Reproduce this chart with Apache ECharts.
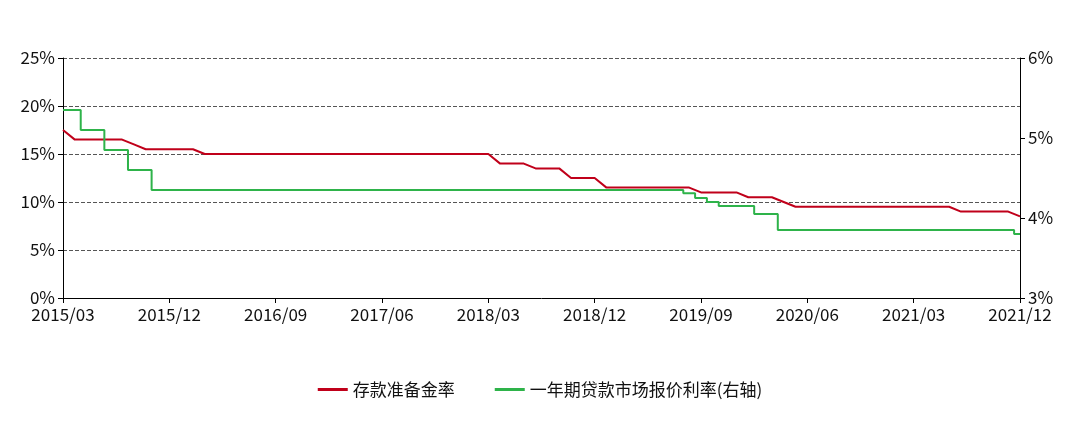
<!DOCTYPE html><html><head><meta charset="utf-8">
<script src="https://cdn.jsdelivr.net/npm/echarts@6/dist/echarts.min.js"></script>
<style>body{margin:0}#c{width:1080px;height:425px}</style></head><body><div id="c"></div><script>
const months=[];for(let y=2015,m=3;months.length<82;){months.push(y+'/'+String(m).padStart(2,'0'));m++;if(m>12){m=1;y++;}}
const rrr=[17.5,16.5,16.5,16.5,16.5,16.5,16,15.5,15.5,15.5,15.5,15.5,
15,15,15,15,15,15,15,15,15,15,15,15,15,15,15,15,15,15,15,15,15,15,15,15,15,
14,14,14,13.5,13.5,13.5,12.5,12.5,12.5,11.5,11.5,11.5,11.5,11.5,11.5,11.5,11.5,
11,11,11,11,10.5,10.5,10.5,10,9.5,9.5,9.5,9.5,9.5,9.5,9.5,9.5,9.5,9.5,9.5,9.5,9.5,9.5,
9,9,9,9,9,8.5];
const lpr=[5.35,5.35,5.1,5.1,4.85,4.85,4.6,4.6];
while(lpr.length<53)lpr.push(4.35);
lpr.push(4.31,4.25,4.2,4.15,4.15,4.15,4.05,4.05);
while(lpr.length<81)lpr.push(3.85);
lpr.push(3.8);
const names=['存款准备金率','一年期贷款市场报价利率(右轴)'];
const ft={fontFamily:'Noto Sans CJK SC',fontSize:17,color:'#111'};
const c=echarts.init(document.getElementById('c'));
c.setOption({
animation:false,
grid:{left:63,right:60,top:58,bottom:127},
legend:{bottom:22,left:'center',itemGap:40,itemWidth:30,itemHeight:3,icon:'rect',textStyle:ft,data:names},
xAxis:{type:'category',data:months,boundaryGap:false,
 axisLine:{lineStyle:{color:'#000'}},axisTick:{show:true,interval:8,alignWithLabel:true,lineStyle:{color:'#000'}},
 axisLabel:Object.assign({interval:8,margin:8},ft)},
yAxis:[{type:'value',min:0,max:25,interval:5,axisLine:{show:true,lineStyle:{color:'#000'}},axisTick:{show:true,lineStyle:{color:'#000'}},
 axisLabel:Object.assign({formatter:'{value}%'},ft),splitLine:{lineStyle:{type:'dashed',color:'#555'}}},
 {type:'value',min:3,max:6,interval:1,axisLine:{show:true,lineStyle:{color:'#000'}},axisTick:{show:true,lineStyle:{color:'#000'}},
 axisLabel:Object.assign({formatter:'{value}%'},ft),splitLine:{show:false}}],
series:[{name:names[0],type:'line',data:rrr,symbol:'none',lineStyle:{color:'#c0001a',width:2},itemStyle:{color:'#c0001a'}},
{name:names[1],type:'line',yAxisIndex:1,step:'middle',data:lpr,symbol:'none',lineStyle:{color:'#2eb34a',width:2},itemStyle:{color:'#2eb34a'}}]
});
</script></body></html>
